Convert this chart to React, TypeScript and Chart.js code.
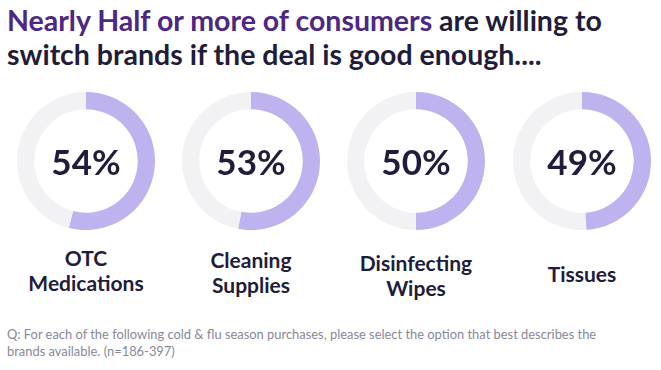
import React, { useEffect, useRef } from "react";
import { Chart, registerables } from "chart.js";

Chart.register(...registerables);

const categories = ["OTC|Medications", "Cleaning|Supplies", "Disinfecting|Wipes", "Tissues"];
const values = [54, 53, 50, 49];
const centersX = [86, 251, 416, 582];
const labelTops = [245, 247, 250, 261];

const PURPLE = "#beb3ee";
const GRAY = "#f2f2f4";
const DARK = "#1f1d3b";
const FONT = "Lato, 'Open Sans', sans-serif";

function Donut({ value }: { value: number }) {
  const ref = useRef<HTMLCanvasElement | null>(null);
  useEffect(() => {
    if (!ref.current) return;
    const chart = new Chart(ref.current, {
      type: "doughnut",
      data: {
        labels: ["Yes", "No"],
        datasets: [
          {
            data: [value, 100 - value],
            backgroundColor: [PURPLE, GRAY],
            borderWidth: 0,
          },
        ],
      },
      options: {
        responsive: false,
        maintainAspectRatio: false,
        animation: false,
        cutout: "75%",
        layout: { padding: 0 },
        plugins: { legend: { display: false }, tooltip: { enabled: false } },
      },
    });
    return () => chart.destroy();
  }, [value]);
  return <canvas ref={ref} width={138} height={138} style={{ width: 138, height: 138 }} />;
}

export default function App() {
  return (
    <div
      style={{
        position: "fixed",
        left: 0,
        top: 0,
        width: 661,
        height: 370,
        background: "#fff",
        fontFamily: FONT,
        overflow: "hidden",
      }}
    >
      <div
        style={{
          position: "absolute",
          left: 7,
          top: 3,
          fontSize: 28.5,
          fontWeight: 700,
          lineHeight: "34px",
          color: DARK,
          width: 660,
          whiteSpace: "nowrap",
        }}
      >
        <span style={{ color: "#4d2784" }}>Nearly Half or more of consumers</span> are willing to
        <br />
        switch brands if the deal is good enough....
      </div>
      {values.map((v, i) => (
        <React.Fragment key={i}>
          <div style={{ position: "absolute", left: centersX[i] - 69, top: 92 }}>
            <Donut value={v} />
          </div>
          <div
            style={{
              position: "absolute",
              left: centersX[i] - 69,
              top: 141,
              width: 138,
              textAlign: "center",
              fontSize: 35,
              fontWeight: 700,
              color: DARK,
              lineHeight: "40px",
            }}
          >
            {v}%
          </div>
          <div
            style={{
              position: "absolute",
              left: centersX[i] - 80,
              top: labelTops[i],
              width: 160,
              textAlign: "center",
              fontSize: 21,
              fontWeight: 700,
              color: DARK,
              lineHeight: "25px",
            }}
          >
            {categories[i].split("|").map((t, j) => (
              <div key={j}>{t}</div>
            ))}
          </div>
        </React.Fragment>
      ))}
      <div
        style={{
          position: "absolute",
          left: 7,
          top: 326,
          width: 655,
          fontSize: 12.9,
          lineHeight: "17px",
          color: "#8a8898",
          whiteSpace: "nowrap",
        }}
      >
        Q: For each of the following cold &amp; flu season purchases, please select the option that best describes the
        <br />
        brands available. (n=186-397)
      </div>
    </div>
  );
}
